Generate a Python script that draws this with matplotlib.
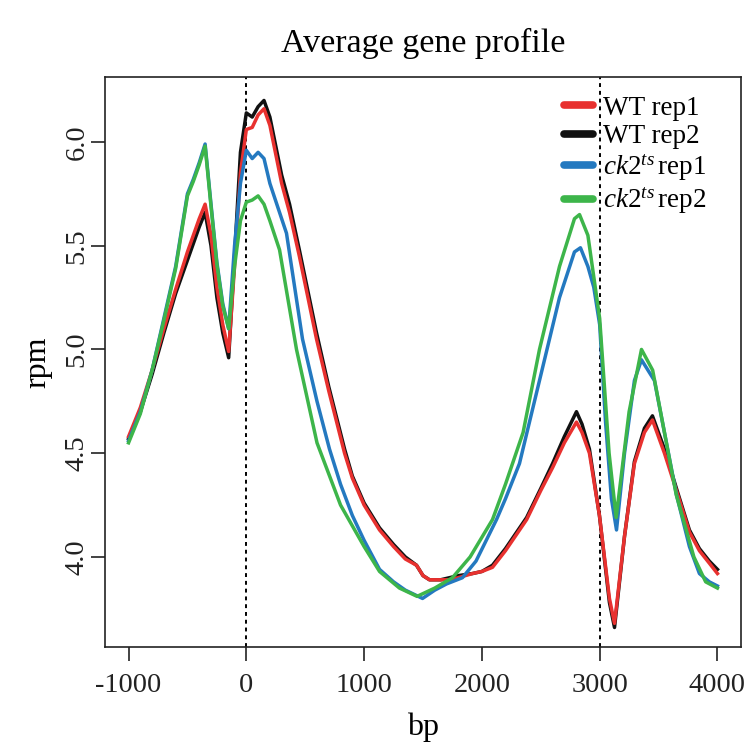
import matplotlib
matplotlib.use("Agg")
import matplotlib.pyplot as plt
import numpy as np

plt.rcParams['font.family'] = ['Liberation Serif', 'DejaVu Serif']
plt.rcParams['mathtext.fontset'] = 'custom'
plt.rcParams['mathtext.rm'] = 'Liberation Serif'
plt.rcParams['mathtext.it'] = 'Liberation Serif:italic'

# ---- data ----
wt1_x = [-1000, -900, -800, -700, -600, -500, -400, -350, -300, -250, -200, -150, -100, -50, 0, 50, 100, 150, 200,
         300, 367, 450, 596, 700, 834, 900, 1000, 1131, 1250, 1350, 1445, 1500, 1555, 1650, 1725, 1800, 1920, 2000,
         2090, 2200, 2380, 2500, 2600, 2700, 2803, 2850, 2913, 2998, 3083, 3126, 3211, 3295, 3380, 3448, 3550, 3652,
         3762, 3847, 3931, 4000]
wt1_y = [4.58, 4.72, 4.90, 5.10, 5.29, 5.47, 5.63, 5.70, 5.55, 5.30, 5.12, 4.99, 5.40, 5.85, 6.06, 6.07, 6.13, 6.16, 6.08,
         5.80, 5.66, 5.45, 5.05, 4.80, 4.50, 4.38, 4.25, 4.13, 4.05, 3.99, 3.96, 3.91, 3.89, 3.89, 3.89, 3.90, 3.92, 3.93,
         3.95, 4.03, 4.18, 4.32, 4.43, 4.55, 4.65, 4.60, 4.50, 4.20, 3.80, 3.68, 4.10, 4.45, 4.60, 4.66, 4.50, 4.32,
         4.12, 4.03, 3.97, 3.92]

wt2_x = wt1_x
wt2_y = [4.57, 4.70, 4.88, 5.08, 5.27, 5.43, 5.59, 5.66, 5.50, 5.25, 5.08, 4.96, 5.45, 5.95, 6.14, 6.12, 6.17, 6.20, 6.12,
         5.84, 5.70, 5.48, 5.08, 4.82, 4.52, 4.39, 4.26, 4.14, 4.06, 4.00, 3.96, 3.91, 3.89, 3.89, 3.90, 3.91, 3.92, 3.93,
         3.96, 4.04, 4.19, 4.33, 4.45, 4.58, 4.70, 4.64, 4.52, 4.20, 3.78, 3.66, 4.10, 4.46, 4.62, 4.68, 4.52, 4.33,
         4.13, 4.04, 3.98, 3.94]

ck1_x = [-1000, -900, -800, -700, -600, -500, -450, -400, -350, -300, -250, -200, -150, -100, -50, 0, 50, 100, 150,
         200, 341, 477, 600, 706, 800, 900, 1000, 1131, 1250, 1350, 1496, 1600, 1700, 1835, 1950, 2124, 2200, 2319,
         2489, 2659, 2786, 2837, 2900, 2950, 3000, 3050, 3100, 3143, 3211, 3295, 3355, 3465, 3550, 3652, 3762, 3847,
         3931, 4000]
ck1_y = [4.56, 4.70, 4.90, 5.15, 5.40, 5.75, 5.82, 5.90, 5.99, 5.70, 5.42, 5.22, 5.10, 5.50, 5.80, 5.96, 5.92, 5.95, 5.92,
         5.80, 5.56, 5.05, 4.75, 4.52, 4.35, 4.20, 4.08, 3.94, 3.88, 3.84, 3.80, 3.84, 3.87, 3.90, 3.98, 4.18, 4.28, 4.45,
         4.85, 5.25, 5.47, 5.49, 5.40, 5.30, 5.12, 4.65, 4.28, 4.13, 4.50, 4.85, 4.95, 4.85, 4.60, 4.30, 4.05, 3.92,
         3.88, 3.86]

ck2_x = [-1000, -900, -800, -700, -600, -500, -450, -400, -350, -300, -250, -200, -150, -100, -50, 0, 50, 100, 150,
         200, 282, 426, 600, 800, 1000, 1131, 1300, 1450, 1600, 1750, 1900, 2090, 2200, 2350, 2489, 2659, 2786, 2829,
         2900, 3000, 3080, 3140, 3250, 3355, 3450, 3550, 3650, 3800, 3900, 4000]
ck2_y = [4.55, 4.69, 4.90, 5.14, 5.39, 5.74, 5.81, 5.89, 5.98, 5.69, 5.41, 5.21, 5.10, 5.40, 5.62, 5.71, 5.72, 5.74, 5.70,
         5.62, 5.48, 5.00, 4.55, 4.25, 4.05, 3.93, 3.85, 3.81, 3.85, 3.90, 4.00, 4.18, 4.35, 4.60, 5.00, 5.40, 5.63, 5.65,
         5.55, 5.15, 4.50, 4.19, 4.70, 5.00, 4.90, 4.60, 4.30, 4.00, 3.88, 3.85]

labels = ['WT rep1', 'WT rep2', r'$\mathit{ck2}^{\mathit{ts}}\,$rep1', r'$\mathit{ck2}^{\mathit{ts}}\,$rep2']
colors = ['#e8312f', '#111111', '#2479c0', '#3db54a']
x_ticks = [-1000, 0, 1000, 2000, 3000, 4000]
y_ticks = [4.0, 4.5, 5.0, 5.5, 6.0]
vlines = [0, 3000]

fig = plt.figure(figsize=(7.47, 7.49), dpi=100)
ax = fig.add_axes([105/747, 1 - 647/749, (741-105)/747, (647-77)/749])

series = [(wt1_x, wt1_y), (wt2_x, wt2_y), (ck1_x, ck1_y), (ck2_x, ck2_y)]
zorders = [4, 3, 5, 6]
handles = []
for (xs, ys), c, lab, z in zip(series, colors, labels, zorders):
    h, = ax.plot(xs, ys, color=c, lw=2.5, label=lab, zorder=z, solid_joinstyle='round')
    handles.append(h)

for v in vlines:
    ax.axvline(v, color='black', lw=1.4, ls=(0, (2, 2)), zorder=2)

ax.set_xlim(-1200, 4200)
ax.set_ylim(3.566, 6.313)
ax.set_xticks(x_ticks)
ax.set_xticklabels([str(t) for t in x_ticks])
ax.set_yticks(y_ticks)
ax.set_yticklabels([f"{t:.1f}" for t in y_ticks], rotation=90, va='center')
ax.tick_params(direction='out', length=10, width=1.2, labelsize=20.5, colors='#222222')
ax.tick_params(axis='x', pad=9)
ax.tick_params(axis='y', pad=1)
for s in ax.spines.values():
    s.set_linewidth(1.2)
    s.set_color('#222222')

ax.set_xlabel('bp', fontsize=23, labelpad=10)
ax.set_ylabel('rpm', fontsize=23, labelpad=9)
ax.set_title('Average gene profile', fontsize=24.5, pad=18)

leg = ax.legend(handles=handles, loc='upper right', bbox_to_anchor=(0.975, 1.0), frameon=False,
                fontsize=19.5, handlelength=1.1, handletextpad=0.35, labelspacing=0.12,
                borderaxespad=0.3)
for lh in leg.get_lines():
    lh.set_linewidth(5.5)
    lh.set_solid_capstyle('round')

fig.savefig('out.png', dpi=100, facecolor='white')
